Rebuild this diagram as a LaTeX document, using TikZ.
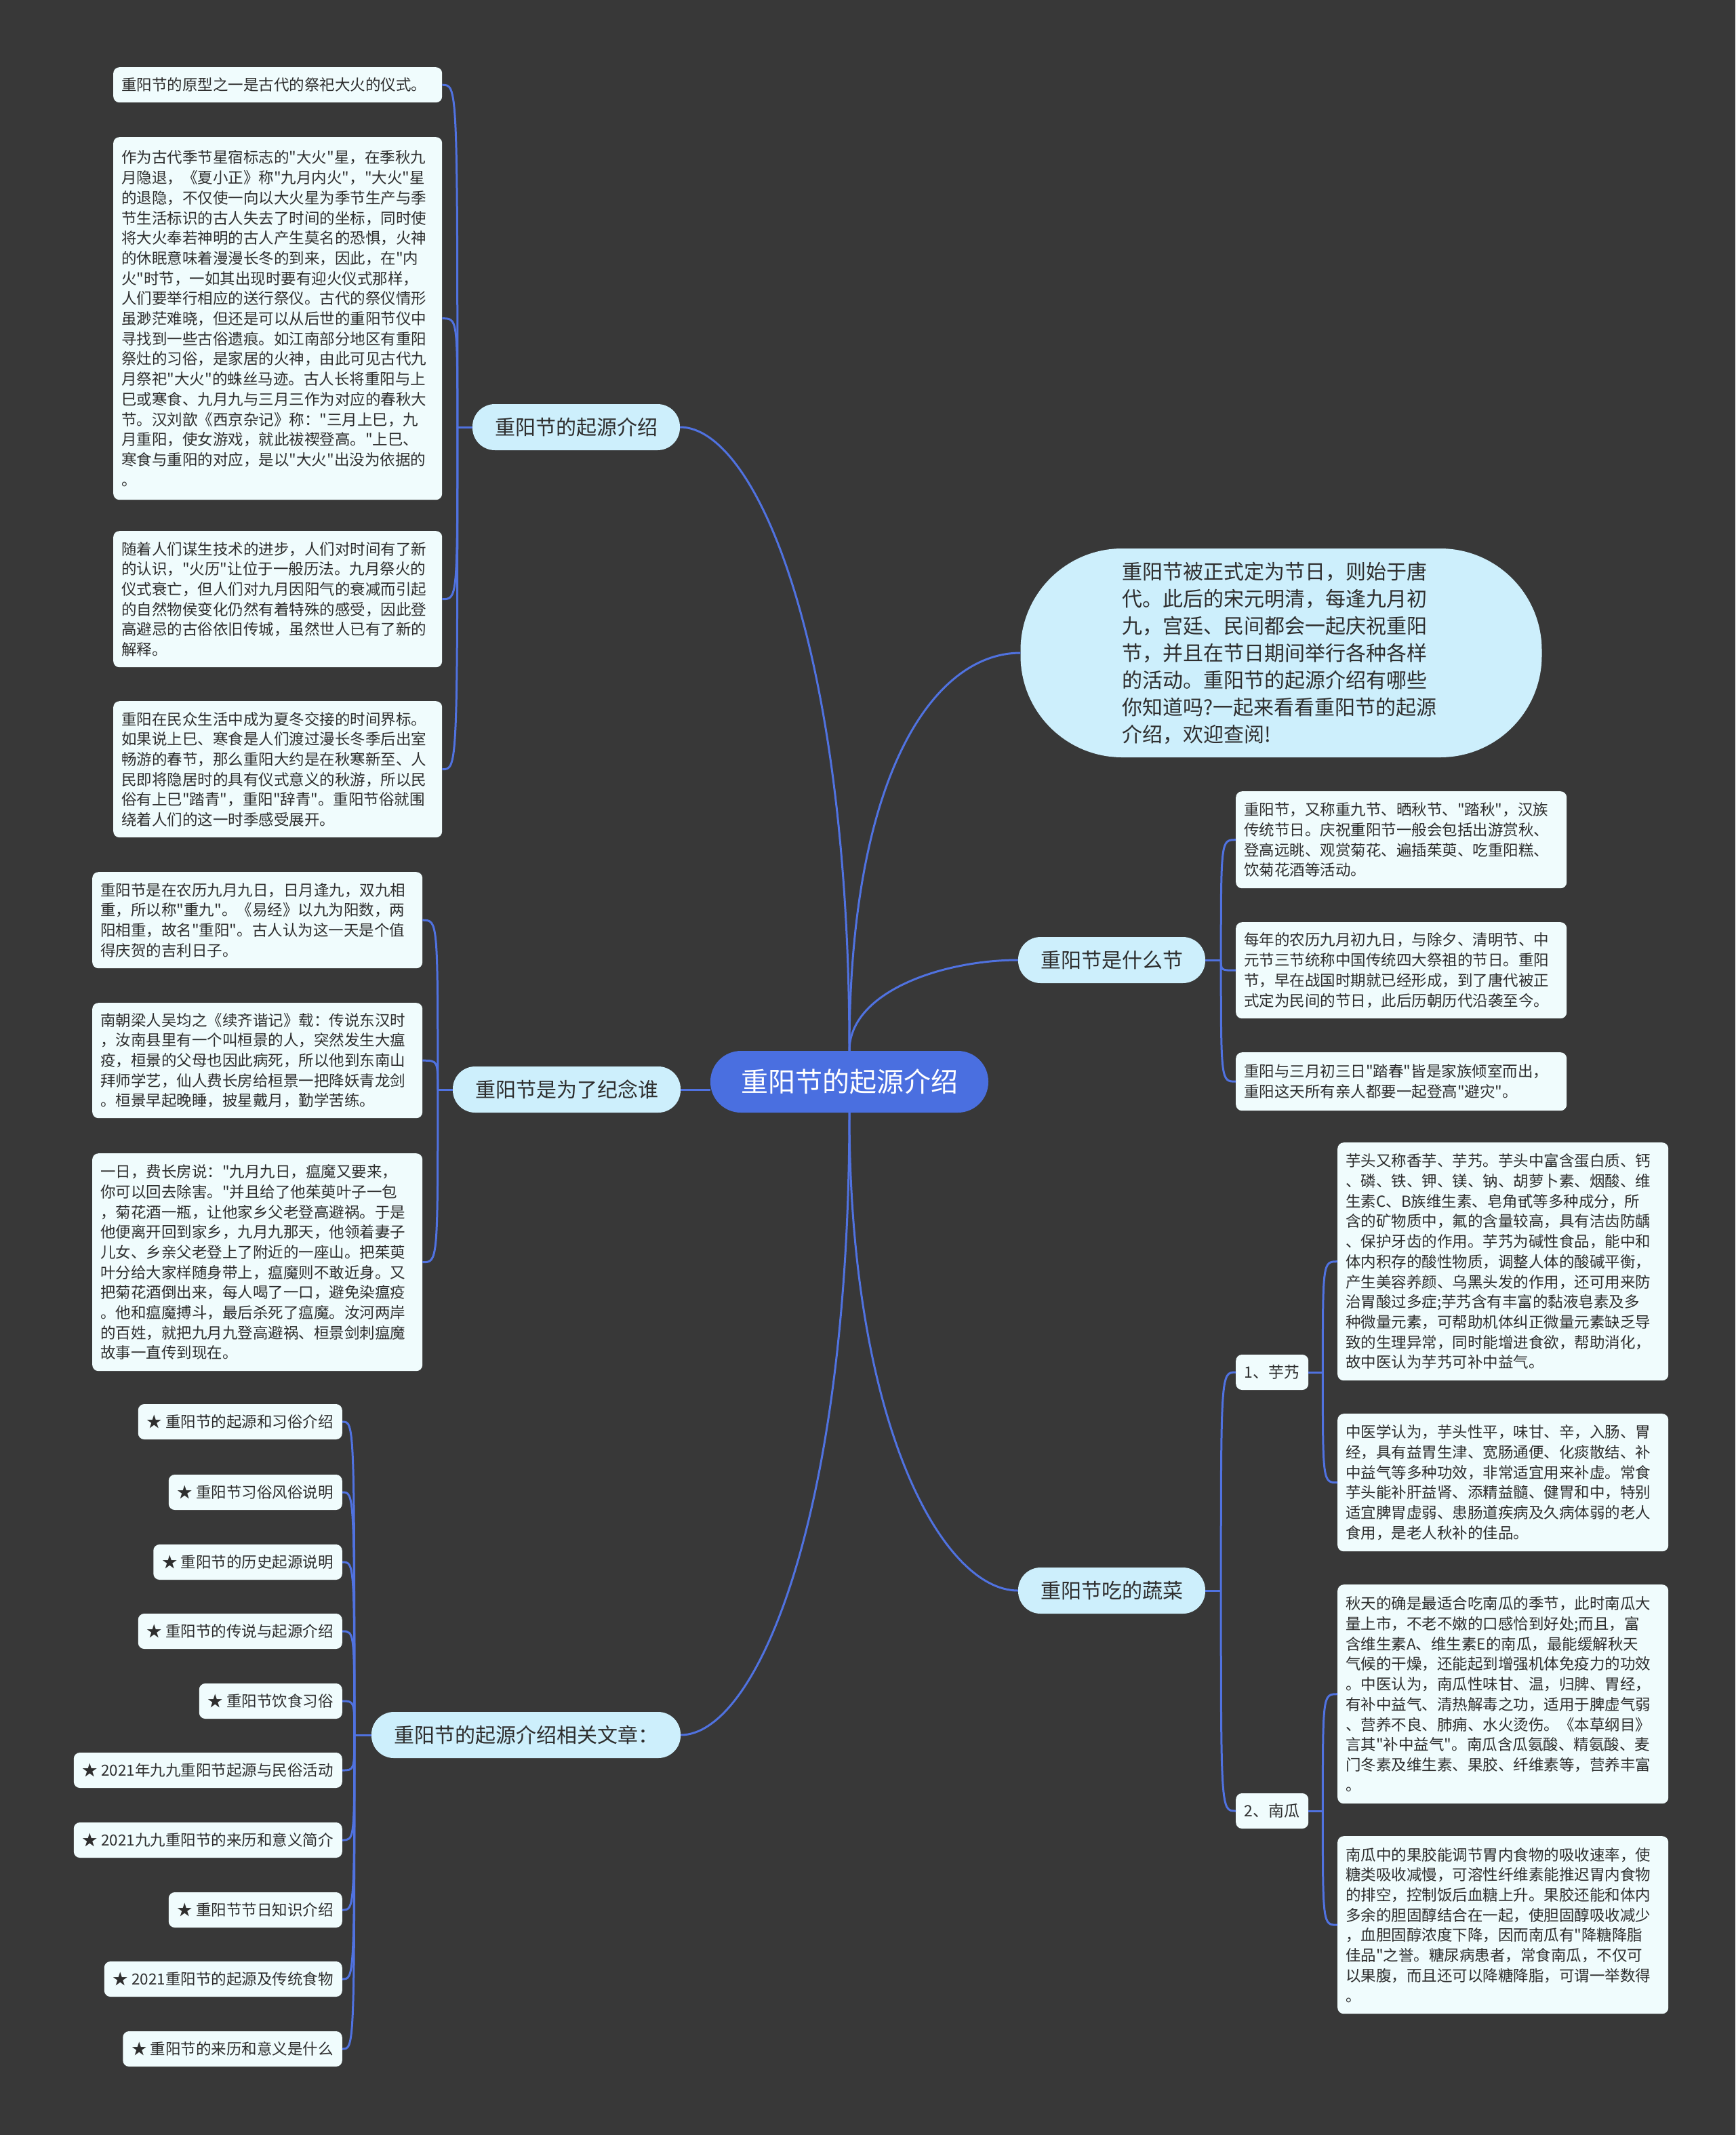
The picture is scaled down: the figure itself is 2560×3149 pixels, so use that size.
\documentclass[tikz,border=0pt]{standalone}
\usepackage{fontspec}
\newfontfamily\cjk{Noto Sans CJK SC}
\definecolor{bgc}{HTML}{383838}
\definecolor{rootc}{HTML}{4A6FE0}
\definecolor{linec}{HTML}{5072E0}
\definecolor{pillc}{HTML}{CDEFFC}
\definecolor{leafc}{HTML}{F0FCFD}
\definecolor{txt}{HTML}{2E2E2E}
\tikzset{
  conn/.style={draw=linec, line width=3pt},
  leaf/.style={fill=leafc, rounded corners=9pt, inner xsep=12pt, inner ysep=4pt, align=left, text=txt,
    font=\cjk\fontsize{22.5}{29.7}\selectfont, anchor=north west},
  art/.style={fill=leafc, rounded corners=9pt, inner xsep=13pt, inner ysep=0pt, minimum height=52pt, text=txt,
    font=\cjk\fontsize{22.5}{27}\selectfont, anchor=east},
  subn/.style={fill=leafc, rounded corners=9pt, inner xsep=12pt, minimum height=52pt, minimum width=107pt, text=txt,
    font=\cjk\fontsize{23}{27}\selectfont, anchor=west},
  pill/.style={fill=pillc, rounded corners=33pt, inner xsep=33pt, minimum height=68pt, text=txt,
    font=\cjk\fontsize{30}{36}\selectfont},
  rootn/.style={fill=rootc, rounded corners=45pt, minimum width=410pt, minimum height=91pt, text=white,
    font=\cjk\fontsize{40}{48}\selectfont},
}
\begin{document}
\begin{tikzpicture}[x=1pt,y=-1pt]
\useasboundingbox (0,0) rectangle (2560,3149);
\fill[bgc] (0,0) rectangle (2560,3149);

% root and main branches
\node[rootn] (root) at (1253,1595.5) {重阳节的起源介绍};
\node[pill] (PO) at (850,630) {重阳节的起源介绍};
\node[pill] (PWho) at (836,1607) {重阳节是为了纪念谁};
\node[pill] (PW) at (1640,1416) {重阳节是什么节};
\node[pill] (PV) at (1640,2346) {重阳节吃的蔬菜};
\node[pill] (PA) at (776,2559) {重阳节的起源介绍相关文章：};
\node[fill=pillc, rounded corners=150pt, minimum width=769pt, minimum height=308pt, text width=470pt, align=left, text=txt,
  font=\cjk\fontsize{30}{40}\selectfont] (bub) at (1890,963)
  {重阳节被正式定为节日，则始于唐\\代。此后的宋元明清，每逢九月初\\九，宫廷、民间都会一起庆祝重阳\\节，并且在节日期间举行各种各样\\的活动。重阳节的起源介绍有哪些\\你知道吗?一起来看看重阳节的起源\\介绍，欢迎查阅!};

% section 1 leaves
\node[leaf, text width=461pt, minimum height=52pt] (L1) at (167,99) {重阳节的原型之一是古代的祭祀大火的仪式。};
\node[leaf, text width=461pt, minimum height=535pt] (L2) at (167,202) {作为古代季节星宿标志的"大火"星，在季秋九\\月隐退，《夏小正》称"九月内火"，"大火"星\\的退隐，不仅使一向以大火星为季节生产与季\\节生活标识的古人失去了时间的坐标，同时使\\将大火奉若神明的古人产生莫名的恐惧，火神\\的休眠意味着漫漫长冬的到来，因此，在"内\\火"时节，一如其出现时要有迎火仪式那样，\\人们要举行相应的送行祭仪。古代的祭仪情形\\虽渺茫难晓，但还是可以从后世的重阳节仪中\\寻找到一些古俗遗痕。如江南部分地区有重阳\\祭灶的习俗，是家居的火神，由此可见古代九\\月祭祀"大火"的蛛丝马迹。古人长将重阳与上\\巳或寒食、九月九与三月三作为对应的春秋大\\节。汉刘歆《西京杂记》称："三月上巳，九\\月重阳，使女游戏，就此祓禊登高。"上巳、\\寒食与重阳的对应，是以"大火"出没为依据的\\。};
\node[leaf, text width=461pt, minimum height=201pt] (L3) at (167,783) {随着人们谋生技术的进步，人们对时间有了新\\的认识，"火历"让位于一般历法。九月祭火的\\仪式衰亡，但人们对九月因阳气的衰减而引起\\的自然物侯变化仍然有着特殊的感受，因此登\\高避忌的古俗依旧传城，虽然世人已有了新的\\解释。};
\node[leaf, text width=461pt, minimum height=201pt] (L4) at (167,1034) {重阳在民众生活中成为夏冬交接的时间界标。\\如果说上巳、寒食是人们渡过漫长冬季后出室\\畅游的春节，那么重阳大约是在秋寒新至、人\\民即将隐居时的具有仪式意义的秋游，所以民\\俗有上巳"踏青"，重阳"辞青"。重阳节俗就围\\绕着人们的这一时季感受展开。};

% section 2 leaves
\node[leaf, text width=463pt, minimum height=142pt] (M1) at (136,1286) {重阳节是在农历九月九日，日月逢九，双九相\\重，所以称"重九"。《易经》以九为阳数，两\\阳相重，故名"重阳"。古人认为这一天是个值\\得庆贺的吉利日子。};
\node[leaf, text width=463pt, minimum height=170pt] (M2) at (136,1479) {南朝梁人吴均之《续齐谐记》载：传说东汉时\\，汝南县里有一个叫桓景的人，突然发生大瘟\\疫，桓景的父母也因此病死，所以他到东南山\\拜师学艺，仙人费长房给桓景一把降妖青龙剑\\。桓景早起晚睡，披星戴月，勤学苦练。};
\node[leaf, text width=463pt, minimum height=321pt] (M3) at (136,1701) {一日，费长房说："九月九日，瘟魔又要来，\\你可以回去除害。"并且给了他茱萸叶子一包\\，菊花酒一瓶，让他家乡父老登高避祸。于是\\他便离开回到家乡，九月九那天，他领着妻子\\儿女、乡亲父老登上了附近的一座山。把茱萸\\叶分给大家样随身带上，瘟魔则不敢近身。又\\把菊花酒倒出来，每人喝了一口，避免染瘟疫\\。他和瘟魔搏斗，最后杀死了瘟魔。汝河两岸\\的百姓，就把九月九登高避祸、桓景剑刺瘟魔\\故事一直传到现在。};

% what-is leaves
\node[leaf, text width=464pt, minimum height=143pt] (R1) at (1823,1167) {重阳节，又称重九节、晒秋节、"踏秋"，汉族\\传统节日。庆祝重阳节一般会包括出游赏秋、\\登高远眺、观赏菊花、遍插茱萸、吃重阳糕、\\饮菊花酒等活动。};
\node[leaf, text width=464pt, minimum height=142pt] (R2) at (1823,1360) {每年的农历九月初九日，与除夕、清明节、中\\元节三节统称中国传统四大祭祖的节日。重阳\\节，早在战国时期就已经形成，到了唐代被正\\式定为民间的节日，此后历朝历代沿袭至今。};
\node[leaf, text width=464pt, minimum height=86pt] (R3) at (1823,1552) {重阳与三月初三日"踏春"皆是家族倾室而出，\\重阳这天所有亲人都要一起登高"避灾"。};

% vegetables
\node[subn] (S1) at (1823,2024) {1、芋艿};
\node[subn] (S2) at (1823,2671) {2、南瓜};
\node[leaf, text width=464pt, minimum height=351pt] (T1) at (1973,1685) {芋头又称香芋、芋艿。芋头中富含蛋白质、钙\\、磷、铁、钾、镁、钠、胡萝卜素、烟酸、维\\生素C、B族维生素、皂角甙等多种成分，所\\含的矿物质中，氟的含量较高，具有洁齿防龋\\、保护牙齿的作用。芋艿为碱性食品，能中和\\体内积存的酸性物质，调整人体的酸碱平衡，\\产生美容养颜、乌黑头发的作用，还可用来防\\治胃酸过多症;芋艿含有丰富的黏液皂素及多\\种微量元素，可帮助机体纠正微量元素缺乏导\\致的生理异常，同时能增进食欲，帮助消化，\\故中医认为芋艿可补中益气。};
\node[leaf, text width=464pt, minimum height=203pt] (T2) at (1973,2085) {中医学认为，芋头性平，味甘、辛，入肠、胃\\经，具有益胃生津、宽肠通便、化痰散结、补\\中益气等多种功效，非常适宜用来补虚。常食\\芋头能补肝益肾、添精益髓、健胃和中，特别\\适宜脾胃虚弱、患肠道疾病及久病体弱的老人\\食用，是老人秋补的佳品。};
\node[leaf, text width=464pt, minimum height=323pt] (P1) at (1973,2337) {秋天的确是最适合吃南瓜的季节，此时南瓜大\\量上市，不老不嫩的口感恰到好处;而且，富\\含维生素A、维生素E的南瓜，最能缓解秋天\\气候的干燥，还能起到增强机体免疫力的功效\\。中医认为，南瓜性味甘、温，归脾、胃经，\\有补中益气、清热解毒之功，适用于脾虚气弱\\、营养不良、肺痈、水火烫伤。《本草纲目》\\言其"补中益气"。南瓜含瓜氨酸、精氨酸、麦\\门冬素及维生素、果胶、纤维素等，营养丰富\\。};
\node[leaf, text width=464pt, minimum height=262pt] (P2) at (1973,2708) {南瓜中的果胶能调节胃内食物的吸收速率，使\\糖类吸收减慢，可溶性纤维素能推迟胃内食物\\的排空，控制饭后血糖上升。果胶还能和体内\\多余的胆固醇结合在一起，使胆固醇吸收减少\\，血胆固醇浓度下降，因而南瓜有"降糖降脂\\佳品"之誉。糖尿病患者，常食南瓜，不仅可\\以果腹，而且还可以降糖降脂，可谓一举数得\\。};

% articles
\node[art] (A1) at (505,2097) {★ 重阳节的起源和习俗介绍};
\node[art] (A2) at (505,2201) {★ 重阳节习俗风俗说明};
\node[art] (A3) at (505,2304) {★ 重阳节的历史起源说明};
\node[art] (A4) at (505,2406) {★ 重阳节的传说与起源介绍};
\node[art] (A5) at (505,2509) {★ 重阳节饮食习俗};
\node[art] (A6) at (505,2611) {★ 2021年九九重阳节起源与民俗活动};
\node[art] (A7) at (505,2714) {★ 2021九九重阳节的来历和意义简介};
\node[art] (A8) at (505,2817) {★ 重阳节节日知识介绍};
\node[art] (A9) at (505,2919) {★ 2021重阳节的起源及传统食物};
\node[art] (A10) at (505,3022) {★ 重阳节的来历和意义是什么};

% root connectors
\draw[conn] (root.north) .. controls (1253,952) and (1115,630) .. (PO.east);
\draw[conn] (root.north) .. controls (1253,1139) and (1379,963) .. (bub.west);
\draw[conn] (root.north) .. controls (1253,1463) and (1390,1416) .. (PW.west);
\draw[conn] (root.south) .. controls (1253,2099) and (1390,2346) .. (PV.west);
\draw[conn] (root.south) .. controls (1253,2238) and (1116,2559) .. (PA.east);
\draw[conn] (PWho.east) -- (PWho.east -| root.west);

% brackets
\draw[conn] (PO.west) -- ++(-22,0) coordinate (bo);
\foreach \n in {L1,L2,L3,L4}
  \draw[conn] (bo) .. controls (bo |- \n.east) and (bo |- \n.east) .. (\n.east);
\draw[conn] (PWho.west) -- ++(-22,0) coordinate (bw);
\foreach \n in {M1,M2,M3}
  \draw[conn] (bw) .. controls (bw |- \n.east) and (bw |- \n.east) .. (\n.east);
\draw[conn] (PW.east) -- ++(23,0) coordinate (bt);
\foreach \n in {R1,R2,R3}
  \draw[conn] (bt) .. controls (bt |- \n.west) and (bt |- \n.west) .. (\n.west);
\draw[conn] (PV.east) -- ++(23,0) coordinate (bv);
\foreach \n in {S1,S2}
  \draw[conn] (bv) .. controls (bv |- \n.west) and (bv |- \n.west) .. (\n.west);
\draw[conn] (S1.east) -- ++(21,0) coordinate (bs1);
\foreach \n in {T1,T2}
  \draw[conn] (bs1) .. controls (bs1 |- \n.west) and (bs1 |- \n.west) .. (\n.west);
\draw[conn] (S2.east) -- ++(21,0) coordinate (bs2);
\foreach \n in {P1,P2}
  \draw[conn] (bs2) .. controls (bs2 |- \n.west) and (bs2 |- \n.west) .. (\n.west);
\draw[conn] (PA.west) -- ++(-25,0) coordinate (ba);
\foreach \n in {A1,A2,A3,A4,A5,A6,A7,A8,A9,A10}
  \draw[conn] (ba) .. controls (ba |- \n.east) and (ba |- \n.east) .. (\n.east);
\end{tikzpicture}
\end{document}
